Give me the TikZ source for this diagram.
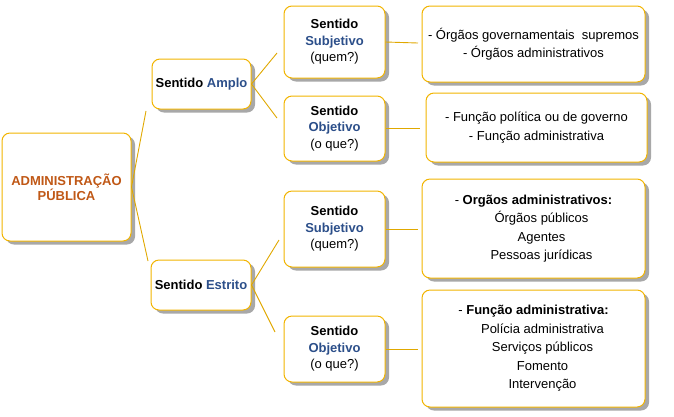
\documentclass[tikz,border=0pt]{standalone}
\usepackage{fontspec}
\setmainfont{Liberation Sans}
\usetikzlibrary{shadows}

\definecolor{boxgold}{HTML}{F2B400}
\definecolor{linkgold}{HTML}{E0A800}
\definecolor{titlebrown}{HTML}{C05816}
\definecolor{termblue}{HTML}{2C4F8A}
\definecolor{shadowgray}{HTML}{A8A8A8}

\begin{document}
\begin{tikzpicture}[x=1pt,y=-1pt,
  card/.style={draw=boxgold, line width=1pt, fill=white, rounded corners=8pt,
    align=center, inner sep=0pt,
    drop shadow={shadow xshift=4pt, shadow yshift=-3.5pt, fill=shadowgray, opacity=1}},
  card size/.style 2 args={minimum width=#1pt, minimum height=#2pt},
  sense/.style={font=\fontsize{13}{16.5}\selectfont},
  list/.style={font=\fontsize{13}{18.5}\selectfont},
  link/.style={draw=linkgold, line width=0.9pt}
  ]
  \useasboundingbox (0,0) rectangle (674,416);

  % root
  \node[card, card size={129}{108}, text=titlebrown,
    font=\fontsize{13}{12.5}\selectfont\bfseries] (admin) at (66.5,187)
    {ADMINISTRAÇÃO\\PÚBLICA};

  % sentido amplo / estrito
  \node[card, card size={99}{50}, sense] (amplo) at (201.5,84)
    {\textbf{Sentido \textcolor{termblue}{Amplo}}};
  \node[card, card size={100}{50}, sense] (estrito) at (201,285)
    {\textbf{Sentido \textcolor{termblue}{Estrito}}};

  % subjetivo / objetivo
  \node[card, card size={101}{72}, sense] (subjA) at (334.5,42)
    {\textbf{Sentido}\\\textbf{\textcolor{termblue}{Subjetivo}}\\(quem?)};
  \node[card, card size={101}{65}, sense] (objA) at (334.5,128.5)
    {\textbf{Sentido}\\\textbf{\textcolor{termblue}{Objetivo}}\\(o que?)};
  \node[card, card size={101}{76}, sense] (subjE) at (334.5,229)
    {\textbf{Sentido}\\\textbf{\textcolor{termblue}{Subjetivo}}\\(quem?)};
  \node[card, card size={101}{66}, sense] (objE) at (334.5,349)
    {\textbf{Sentido}\\\textbf{\textcolor{termblue}{Objetivo}}\\(o que?)};

  % listas
  \node[card, card size={223}{76}, list] (listA1) at (533.5,44)
    {- Órgãos governamentais\ \ supremos\\- Órgãos administrativos};
  \node[card, card size={221}{69}, list] (listA2) at (536.5,127.5)
    {- Função política ou de governo\\- Função administrativa};
  \node[card, card size={223}{99}, list] (listE1) at (533.5,228.5)
    {- \textbf{Orgãos administrativos:}\\
     \hspace*{16pt}Órgãos públicos\\
     \hspace*{16pt}Agentes\\
     \hspace*{16pt}Pessoas jurídicas};
  \node[card, card size={223}{117}, list] (listE2) at (533.5,348.5)
    {- \textbf{Função administrativa:}\\
     \hspace*{18pt}Polícia administrativa\\
     \hspace*{18pt}Serviços públicos\\
     \hspace*{18pt}Fomento\\
     \hspace*{18pt}Intervenção};

  % pontas livres dos conectores
  \coordinate (amploIn) at (146,111);
  \coordinate (estritoIn) at (148,261);
  \coordinate (subjAIn) at (277,53);
  \coordinate (objAIn) at (277,118);
  \coordinate (subjEIn) at (279,240);
  \coordinate (objEIn) at (275,332);
  \coordinate (listA1In) at (418,43);
  \coordinate (listA2In) at (420,128.5);
  \coordinate (listE1In) at (418,229);
  \coordinate (listE2In) at (418,349);

  \draw[link] (admin.east) -- (amploIn);
  \draw[link] (admin.east) -- (estritoIn);
  \draw[link] (amplo.east) -- (subjAIn);
  \draw[link] (amplo.east) -- (objAIn);
  \draw[link] (estrito.east) -- (subjEIn);
  \draw[link] (estrito.east) -- (objEIn);
  \draw[link] (subjA.east) -- (listA1In);
  \draw[link] (objA.east) -- (listA2In);
  \draw[link] (subjE.east) -- (listE1In);
  \draw[link] (objE.east) -- (listE2In);
\end{tikzpicture}
\end{document}
